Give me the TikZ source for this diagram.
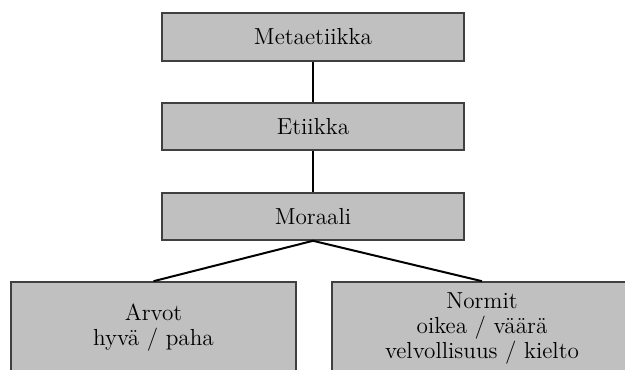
\documentclass[tikz,border=0pt]{standalone}
\usepackage{fontspec}
\definecolor{boxgray}{RGB}{192,192,192}
\definecolor{boxline}{RGB}{64,64,64}
\tikzset{
  box/.style={draw=boxline, fill=boxgray, line width=0.8pt, inner sep=0pt,
    align=center, font=\fontsize{11.6}{12.5}\selectfont},
  link/.style={line width=1pt}
}
\begin{document}
\begin{tikzpicture}[x=0.5pt,y=-0.5pt]
\useasboundingbox (0,0) rectangle (625,369);
\clip (0,0) rectangle (625,369);
% the three levels
\node[box, minimum width=151pt, minimum height=24pt] (meta) at (313,37) {Metaetiikka};
\node[box, minimum width=151pt, minimum height=23.5pt] (etiikka) at (313,126.5) {Etiikka};
\node[box, minimum width=151pt, minimum height=23.5pt] (moraali) at (313,216.5) {Moraali};

% values and norms
\node[box, minimum width=142.5pt, minimum height=46pt] (arvot) at (153.5,328) {Arvot\\hyvä / paha};
\node[box, minimum width=150pt, minimum height=46pt] (normit) at (482,328) {Normit\\oikea / väärä\\velvollisuus / kielto};

% connectors
\draw[link] (meta) -- (etiikka);
\draw[link] (etiikka) -- (moraali);
\draw[link] (moraali.south) -- (arvot.north);
\draw[link] (moraali.south) -- (normit.north);
\end{tikzpicture}
\end{document}
